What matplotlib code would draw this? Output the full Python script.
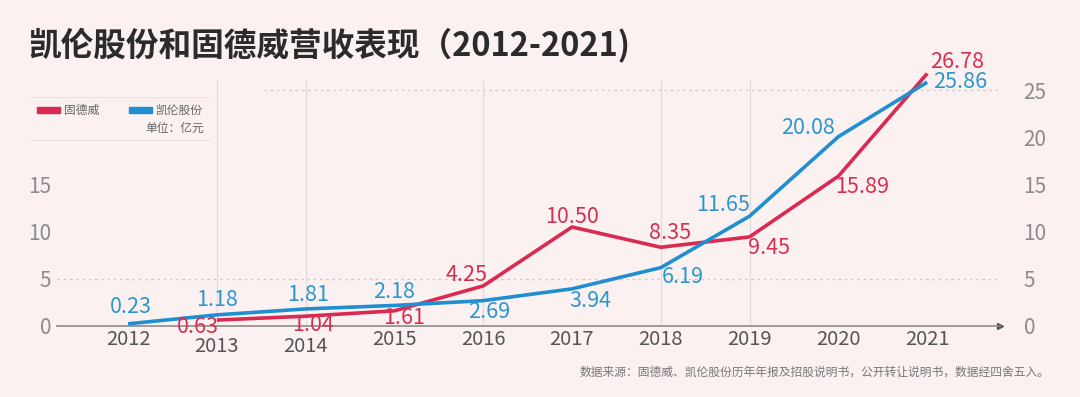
import matplotlib
matplotlib.use('Agg')
import matplotlib.pyplot as plt
import matplotlib.patches as mpatches
from matplotlib.transforms import ScaledTranslation

plt.rcParams['font.family'] = ['Noto Sans CJK SC', 'DejaVu Sans']

years = [2012, 2013, 2014, 2015, 2016, 2017, 2018, 2019, 2020, 2021]
kelun = [0.23, 1.18, 1.81, 2.18, 2.69, 3.94, 6.19, 11.65, 20.08, 25.86]
goodwe_years = years[1:]
goodwe = [0.63, 1.04, 1.61, 4.25, 10.50, 8.35, 9.45, 15.89, 26.78]

left_ticks = [0, 5, 10, 15]
right_ticks = [0, 5, 10, 15, 20, 25]
grid_years = [2013, 2014, 2016, 2018, 2019]
low_tick_years = [2013, 2014]

title = '凯伦股份和固德威营收表现（2012-2021)'
source = '数据来源：固德威、凯伦股份历年年报及招股说明书，公开转让说明书，数据经四舍五入。'
unit = '单位：亿元'

RED = '#d92b52'
BLUE = '#1f8fd2'
RED_TXT = '#d6304f'
BLUE_TXT = '#2b97cf'
BG = '#fcf1f1'
GREY = '#8c8c8c'

# label offsets in points (dx, dy)
kelun_off = [(2, 12), (0, 11), (2, 10), (0, 10), (4, -8), (13, -9),
             (16, -7), (-19, 8), (-22, 6), (4, 0)]
goodwe_off = [(-14, -5), (5, -6), (7, -5), (-12, 8), (0, 7), (7, 10),
              (14, -8), (17, -8), (2, 8)]

fig = plt.figure(figsize=(10.8, 3.97), dpi=100, facecolor=BG)
ax = fig.add_axes([57 / 1080, 71 / 397, (1000 - 57) / 1080, 264 / 397])
ax.set_facecolor(BG)

ax.set_xlim(2011.2, 2021.82)
ax.set_ylim(0, 28)

for s in ['top', 'right', 'left']:
    ax.spines[s].set_visible(False)
ax.spines['bottom'].set_color(GREY)
ax.spines['bottom'].set_linewidth(1.2)
ax.plot([1], [0], marker='>', color='#555555', markersize=4,
        transform=ax.get_yaxis_transform(), clip_on=False)

ax.axhline(5, color='#d0c8c8', lw=0.9, ls=(0, (2, 3)), zorder=0)
ax.axhline(25, xmin=0.22, color='#d0c8c8', lw=0.9, ls=(0, (2, 3)), zorder=0)
for gy in grid_years:
    ax.axvline(gy, ymax=0.93, color='#e2dada', lw=0.9, zorder=0)

ax.plot(goodwe_years, goodwe, color=RED, lw=2.6, solid_capstyle='butt', zorder=3)
ax.plot(years, kelun, color=BLUE, lw=2.6, solid_capstyle='butt', zorder=4)

for x, y, (dx, dy) in zip(years, kelun, kelun_off):
    ha = 'left' if x == years[-1] else 'center'
    ax.annotate(f'{y:.2f}', (x, y), xytext=(dx, dy), textcoords='offset points',
                ha=ha, va='center', fontsize=15.5, color=BLUE_TXT, zorder=5,
                annotation_clip=False)
for x, y, (dx, dy) in zip(goodwe_years, goodwe, goodwe_off):
    ha = 'left' if x == goodwe_years[-1] else 'center'
    ax.annotate(f'{y:.2f}', (x, y), xytext=(dx, dy), textcoords='offset points',
                ha=ha, va='center', fontsize=15.5, color=RED_TXT, zorder=5,
                annotation_clip=False)

ax.set_xticks(years)
ax.set_xticklabels([str(y) for y in years], fontsize=14.5, color='#555555')
ax.tick_params(axis='x', length=0, pad=2)
for lab, yr in zip(ax.get_xticklabels(), years):
    if yr in low_tick_years:
        lab.set_transform(lab.get_transform() +
                          ScaledTranslation(0, -5 / 72, fig.dpi_scale_trans))
ax.set_yticks(left_ticks)
ax.set_yticklabels([str(t) for t in left_ticks], fontsize=15, color=GREY)
ax.tick_params(axis='y', length=0, pad=4)

ax2 = ax.twinx()
ax2.set_ylim(ax.get_ylim())
for s in ax2.spines.values():
    s.set_visible(False)
ax2.set_yticks(right_ticks)
ax2.set_yticklabels([str(t) for t in right_ticks], fontsize=15, color=GREY)
ax2.tick_params(axis='y', length=0, pad=17)

fig.text(28 / 1080, 1 - 45 / 397, title, fontsize=23.5, fontweight='heavy',
         color='#2b2b2b', va='center', ha='left')

# legend box
fig.add_artist(plt.Line2D([30 / 1080, 210 / 1080], [1 - 97 / 397] * 2,
                          color='#ebe2e2', lw=0.8))
fig.add_artist(plt.Line2D([30 / 1080, 210 / 1080], [1 - 140 / 397] * 2,
                          color='#ebe2e2', lw=0.8))
fig.add_artist(mpatches.Rectangle((37 / 1080, 1 - 113 / 397), 23 / 1080, 6 / 397,
                                  color=RED, transform=fig.transFigure))
fig.text(64 / 1080, 1 - 110 / 397, '固德威', fontsize=8.5, color='#666666', va='center')
fig.add_artist(mpatches.Rectangle((129 / 1080, 1 - 113 / 397), 23 / 1080, 6 / 397,
                                  color=BLUE, transform=fig.transFigure))
fig.text(155 / 1080, 1 - 110 / 397, '凯伦股份', fontsize=8.5, color='#666666', va='center')
fig.text(204 / 1080, 1 - 128 / 397, unit, fontsize=8.5, color='#666666',
         va='center', ha='right')

fig.text(1050 / 1080, 1 - 372 / 397, source, fontsize=8.5, color='#777777',
         va='center', ha='right')

fig.savefig('out.png', dpi=100, facecolor=BG)
